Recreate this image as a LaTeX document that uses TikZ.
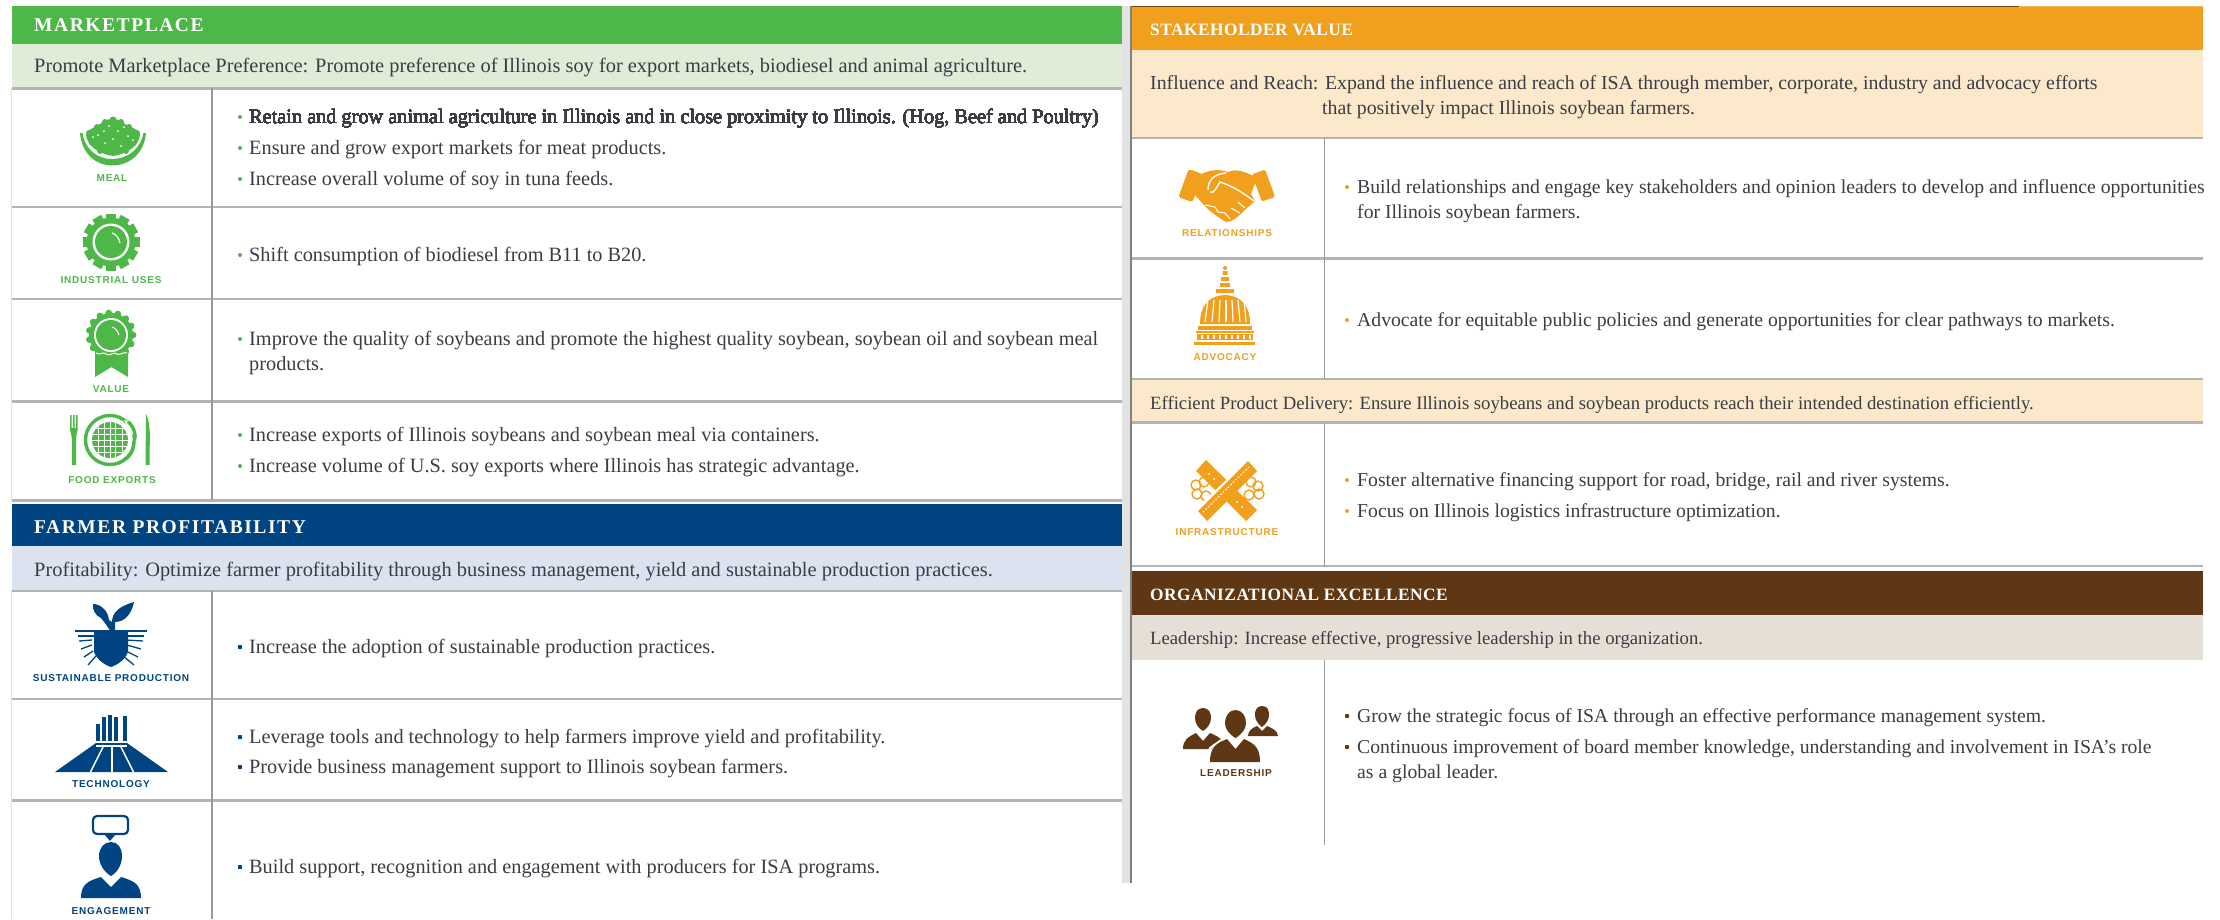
\documentclass[tikz,border=0pt]{standalone}
\usepackage{fontspec}
\setmainfont{Liberation Serif}
\newfontfamily\headfont[LetterSpace=8]{Liberation Serif}
\newfontfamily\headfontb[LetterSpace=3]{Liberation Serif}
\newfontfamily\lblfont[LetterSpace=8]{Liberation Sans}
\usetikzlibrary{calc}
\definecolor{cgreen}{HTML}{4DB848}
\definecolor{cgreenl}{HTML}{DFEDD8}
\definecolor{cblue}{HTML}{004481}
\definecolor{cbluel}{HTML}{DCE3F0}
\definecolor{corange}{HTML}{F0A01C}
\definecolor{corangel}{HTML}{FCE8CB}
\definecolor{cbrown}{HTML}{5F3714}
\definecolor{cbrownl}{HTML}{E6DFD6}
\definecolor{crule}{HTML}{B4B4B4}
\definecolor{ctext}{HTML}{3C3C44}
\tikzset{
  body/.style={anchor=base west,inner sep=0pt,text=ctext,font=\fontsize{20.3}{22}\selectfont},
  bodyr/.style={anchor=base west,inner sep=0pt,text=ctext,font=\fontsize{19.7}{22}\selectfont},
  bandtext/.style={body,font=\fontsize{20.4}{22}\selectfont},
  bandr/.style={body,font=\fontsize{19.8}{22}\selectfont},
  bandrs/.style={body,font=\fontsize{18.7}{22}\selectfont},
  headtxt/.style={anchor=base west,inner sep=0pt,text=white,font=\headfont\bfseries\fontsize{19.5}{24}\selectfont},
  headtxtb/.style={anchor=base west,inner sep=0pt,text=white,font=\headfontb\bfseries\fontsize{17.3}{24}\selectfont},
  lbl/.style={anchor=center,inner sep=0pt,font=\lblfont\bfseries\fontsize{10}{11}\selectfont},
  rowrule/.style={draw=crule,line width=2.2pt},
  colrule/.style={draw=crule!85!black,line width=1.8pt}
}
\newcommand{\blt}[3]{\fill[#3] (#1,#2) circle[radius=2pt];}
\begin{document}
\begin{tikzpicture}[x=1pt,y=-1pt]
\useasboundingbox (0,0) rectangle (2220,919);
\fill[white] (0,0) rectangle (2220,919);
%=== LEFT PANEL
\fill[cgreen] (11.5,6) rectangle (1121.5,44);
\fill[cgreenl] (11.5,44) rectangle (1121.5,88);
\fill[cblue] (11.5,504) rectangle (1121.5,545.5);
\fill[cbluel] (11.5,545.5) rectangle (1121.5,590);
\draw[draw=black!12,line width=0.8pt] (11.5,88) -- (11.5,500) (11.5,590) -- (11.5,919);
\foreach \yy in {88.5,207,299,401.5,500.5,591,699,800.5} \draw[rowrule] (11.5,\yy) -- (1121.5,\yy);
\draw[colrule] (212,88) -- (212,500) (212,591) -- (212,919);
\node[headtxt] (h1) at (34,31) {MARKETPLACE};
\node[bandtext] (b1) at (34,72) {Promote Marketplace Preference: Promote preference of Illinois soy for export markets, biodiesel and animal agriculture.};
\node[headtxt] (h2) at (34,533.5) {FARMER PROFITABILITY};
\node[bandtext] (b2) at (34,576) {Profitability: Optimize farmer profitability through business management, yield and sustainable production practices.};
\foreach \yy in {117,148,179,255,339,435,466} \blt{240}{\yy}{cgreen}
\foreach \yy in {647,737,767,867} \blt{240}{\yy}{cblue}
\node[body] (t1) at (249,123.8) {Retain and grow animal agriculture in Illinois and in close proximity to Illinois. (Hog, Beef and Poultry)};
\node[body] (t2) at (249,154) {Ensure and grow export markets for meat products.};
\node[body] (t3) at (249,185) {Increase overall volume of soy in tuna feeds.};
\node[body] (t4) at (249,261) {Shift consumption of biodiesel from B11 to B20.};
\node[body] (t5) at (249,345) {Improve the quality of soybeans and promote the highest quality soybean, soybean oil and soybean meal};
\node[body] (t6) at (249,370) {products.};
\node[body] (t7) at (249,441) {Increase exports of Illinois soybeans and soybean meal via containers.};
\node[body] (t8) at (249,472) {Increase volume of U.S. soy exports where Illinois has strategic advantage.};
\node[body] (t9) at (249,653) {Increase the adoption of sustainable production practices.};
\node[body] (t10) at (249,743) {Leverage tools and technology to help farmers improve yield and profitability.};
\node[body] (t11) at (249,773) {Provide business management support to Illinois soybean farmers.};
\node[body] (t12) at (249,873) {Build support, recognition and engagement with producers for ISA programs.};
%--- meal icon
\fill[cgreen] (80,133) .. controls (82,155) and (97,165.5) .. (112,165.5) .. controls (128,165.5) and (144,155) .. (146,133) -- (143.5,133) .. controls (140,150) and (127,159) .. (112,159) .. controls (98,159) and (85,150) .. (82.5,133) -- cycle;
\fill[cgreen] (86,135) .. controls (88,128) and (97,127) .. (100,124) .. controls (104,118) and (120,117) .. (125,124) .. controls (130,127) and (139,129) .. (140,135) .. controls (139,145) and (128,154) .. (113,156) .. controls (98,154) and (87,145) .. (86,135) -- cycle;
\foreach \cx/\cy/\rr in {113/120/3.5,105/122/3,121/122/3,97/127/3,129/127/3,89/133/3,137/133/3,92/143/3,134/143/3,100/151/3,126/151/3} \fill[cgreen] (\cx,\cy) circle[radius=\rr pt];
\foreach \cx/\cy in {109/126,118/131,98/135,128/136,105/143,121/146,113/139,93/137,133/140,104/131,124/127} \fill[white] (\cx,\cy) circle[radius=1pt];
\node[lbl,text=cgreen] (l1) at (112,178) {MEAL};
%--- gear icon
\foreach \a in {0,30,...,330} \fill[cgreen,rotate around={\a:(111,242)}] (106,213.5) rectangle (116,225);
\fill[cgreen] (111,242) circle[radius=24.5pt];
\fill[white] (111,242) circle[radius=18.5pt];
\fill[cgreen] (111,242) circle[radius=16pt];
\draw[white,line width=1.2pt] (112,233) .. controls (116,234) and (119,238) .. (120,243);
\node[lbl,text=cgreen] (l2) at (111,280) {INDUSTRIAL USES};
%--- value icon
\fill[cgreen] (95,350) -- (128,350) -- (128,377) -- (111.5,367) -- (95,377) -- cycle;
\foreach \a in {0,24,...,336} \fill[cgreen] ($(111,335)+(\a:22)$) circle[radius=3.4pt];
\fill[cgreen] (111,335) circle[radius=22pt];
\fill[white] (111,335) circle[radius=17pt];
\fill[cgreen] (111,335) circle[radius=15pt];
\draw[white,line width=1.1pt] (112,327) .. controls (115,328) and (118,331) .. (119,335);
\draw[white,line width=1pt] (96,353) .. controls (100,356) and (103,351) .. (106,354) .. controls (109,357) and (114,351) .. (117,354) .. controls (120,356) and (124,351) .. (127,353);
\node[lbl,text=cgreen] (l3) at (111,389) {VALUE};
%--- food exports icon
\draw[cgreen,line width=3.4pt] (110,440) circle[radius=24.5pt];
\fill[white] (124,420) -- (140,425) -- (140,458) -- (126,462) -- (136,440) -- cycle;
\draw[cgreen,line width=3.4pt] (128,421.5) .. controls (135,428) and (136,436) .. (134.5,440);
\draw[cgreen,line width=3.4pt] (134,441) .. controls (134,450) and (130,457) .. (124,460);
\begin{scope}
\clip (110,440) circle[radius=18pt];
\fill[cgreen] (110,440) circle[radius=18pt];
\foreach \xx in {98,104.5,110,115.5,122} \draw[white,line width=1pt] (\xx,420) -- (\xx,460);
\foreach \yy in {428,434,440,446,452} \draw[white,line width=1pt] (90,\yy) -- (130,\yy);
\end{scope}
\fill[cgreen] (70,415) rectangle (71.5,431) (73,415) rectangle (74.5,431) (76,415) rectangle (77.5,431);
\fill[cgreen] (70,428) -- (77.5,428) -- (76,439) -- (76,465) -- (72,465) -- (72,439) -- cycle;
\fill[cgreen] (146,414) .. controls (150,420) and (150.5,440) .. (149.5,448) -- (149.5,465) -- (145.5,465) -- cycle;
\node[lbl,text=cgreen] (l4) at (112,480) {FOOD EXPORTS};
%--- sustainable production icon
\fill[cblue] (111,632) .. controls (106,624) and (104,622) .. (101,618) .. controls (96,616) and (92,610) .. (93,604) .. controls (100,604) and (108,610) .. (109,620) -- (112,622) .. controls (112,612) and (120,606) .. (134,602) .. controls (132,612) and (126,622) .. (115,622) -- (115,632) -- cycle;
\draw[cblue,line width=1.3pt] (75,631) -- (147,631) (78,636) -- (144,636);
\fill[cblue] (94,632) -- (128,632) -- (128,652) .. controls (125,660) and (117,665) .. (111,667) .. controls (105,665) and (97,660) .. (94,652) -- cycle;
\foreach \xa/\ya/\xb/\yb in {92/640/79/641,92/645/81/649,93/651/84/657,96/656/88/665,126/640/143/641,127/645/141/649,126/651/138/657,123/656/134/665} \draw[cblue,line width=1.3pt] (\xa,\ya) -- (\xb,\yb);
\node[lbl,text=cblue] (l5) at (111,678) {SUSTAINABLE PRODUCTION};
%--- technology icon
\foreach \xa/\xb/\ya in {96/100/724,102/106/717,108/112/715,114/118/717,123/127/716} \fill[cblue] (\xa,\ya) rectangle (\xb,741);
\fill[cblue] (96,743) -- (127,743) -- (168,772) -- (55,772) -- cycle;
\foreach \xa/\xb in {104/90,112/112,120/134} \draw[white,line width=1.5pt] (\xa,745) -- (\xb,773);
\draw[white,line width=1.2pt] (96,746) -- (127,746);
\node[lbl,text=cblue] (l6) at (111,784) {TECHNOLOGY};
%--- engagement icon
\draw[cblue,line width=2.2pt,rounded corners=4pt] (93,816) rectangle (128,834);
\fill[cblue] (105,835) -- (115,835) -- (110,841) -- cycle;
\fill[cblue] (111,842) .. controls (118,842) and (122,848) .. (122,856) .. controls (122,864) and (118,872) .. (111,876) .. controls (104,872) and (99,864) .. (99,856) .. controls (99,848) and (104,842) .. (111,842) -- cycle;
\fill[cblue] (81,898) .. controls (81,885) and (87,881) .. (101,877) -- (111,887) -- (121,877) .. controls (135,881) and (141,885) .. (141,898) -- cycle;
\node[lbl,text=cblue] (l7) at (111,911) {ENGAGEMENT};
%=== RIGHT PANEL
\fill[black!11] (1121.5,6) rectangle (1129.5,883);
\fill[black!50] (1129.5,6) rectangle (1131.5,883);
\fill[corange] (1131.5,7) rectangle (2203,50);
\fill[corangel] (1131.5,50) rectangle (2203,137);
\draw[draw=cbrown!85!corange,line width=1pt] (1131.5,6.5) -- (2019,6.5);
\draw[draw=corange!75,line width=1pt] (2019,6.5) -- (2203,6.5);
\fill[corangel] (1131.5,380) rectangle (2203,422);
\fill[cbrown] (1131.5,571) rectangle (2203,615);
\fill[cbrownl] (1131.5,615) rectangle (2203,660);
\foreach \yy in {138,258.5,379,422.5,566} \draw[rowrule] (1131.5,\yy) -- (2203,\yy);
\draw[colrule,line width=1.5pt] (1324.5,138) -- (1324.5,379) (1324.5,423) -- (1324.5,566) (1324.5,660) -- (1324.5,845);
\begin{scope}
\clip (1131.5,0) rectangle (2203,919);
\node[headtxtb] (h3) at (1150,35.5) {STAKEHOLDER VALUE};
\node[bandr] (b3) at (1150,89) {Influence and Reach: Expand the influence and reach of ISA through member, corporate, industry and advocacy efforts};
\node[bandr] (b3b) at (1322,114) {that positively impact Illinois soybean farmers.};
\node[bodyr] (t13) at (1357,193) {Build relationships and engage key stakeholders and opinion leaders to develop and influence opportunities};
\node[bodyr] (t14) at (1357,218) {for Illinois soybean farmers.};
\node[bodyr] (t15) at (1357,326) {Advocate for equitable public policies and generate opportunities for clear pathways to markets.};
\node[bandrs] (b4) at (1150,409) {Efficient Product Delivery: Ensure Illinois soybeans and soybean products reach their intended destination efficiently.};
\node[bodyr] (t16) at (1357,486) {Foster alternative financing support for road, bridge, rail and river systems.};
\node[bodyr] (t17) at (1357,517) {Focus on Illinois logistics infrastructure optimization.};
\node[headtxtb] (h4) at (1150,600) {ORGANIZATIONAL EXCELLENCE};
\node[bandrs] (b5) at (1150,644) {Leadership: Increase effective, progressive leadership in the organization.};
\node[bodyr] (t18) at (1357,722) {Grow the strategic focus of ISA through an effective performance management system.};
\node[bodyr] (t19) at (1357,753) {Continuous improvement of board member knowledge, understanding and involvement in ISA's role};
\node[bodyr] (t20) at (1357,778) {as a global leader.};
\end{scope}
\foreach \yy in {187,320,480,511} \blt{1347}{\yy}{corange}
\foreach \yy in {716,747} \blt{1347}{\yy}{cbrown}
%--- relationships icon
\fill[corange,rounded corners=1.5pt,rotate around={-20:(1190,187)}] (1183,171) rectangle (1197,200);
\fill[corange,rounded corners=1.5pt,rotate around={20:(1264,187)}] (1257,171) rectangle (1271,200);
\fill[corange] (1198,176) .. controls (1206,171) and (1216,168) .. (1228,172) .. controls (1236,168) and (1246,172) .. (1257,178) -- (1251,194) -- (1255,201) .. controls (1250,206) and (1246,208) .. (1242,213) .. controls (1236,218) and (1232,222) .. (1226,222) .. controls (1216,216) and (1208,210) .. (1203,204) -- (1194,194) -- cycle;
\draw[white,line width=1.4pt] (1208,190) .. controls (1208,180) and (1214,174) .. (1226,173) (1210,192) .. controls (1214,194) and (1216,188) .. (1220,182) .. controls (1232,186) and (1242,192) .. (1254,201);
\draw[white,line width=1pt] (1205,205) -- (1215,207) -- (1218,212) -- (1225,213) -- (1230,219) (1231,208) -- (1240,213) (1238,202) -- (1245,208);
\node[lbl,text=corange] (l8) at (1227,233) {RELATIONSHIPS};
%--- advocacy icon
\fill[corange] (1225,268) circle[radius=2pt];
\fill[corange] (1222.5,271) rectangle (1227.5,275) (1221,277) rectangle (1229,281) (1220,283) rectangle (1230,287) (1216,289) rectangle (1234,293);
\fill[corange] (1200,324) .. controls (1200,306) and (1208,296) .. (1225,295) .. controls (1242,296) and (1250,306) .. (1250,324) -- cycle;
\foreach \xa/\xb in {1208/1205,1214/1212,1220/1219,1226/1226,1232/1233,1238/1240,1244/1246} \draw[white,line width=1.2pt] (\xa,300) -- (\xb,322);
\fill[corange] (1198,326) rectangle (1252,330);
\fill[corange] (1196,331) rectangle (1254,333);
\fill[corange] (1197,334) rectangle (1253,340);
\foreach \xx in {1201,1207,...,1250} \fill[white] (\xx,335) rectangle (\xx+2,339);
\fill[corange] (1194,341.5) rectangle (1255,345);
\node[lbl,text=corange] (l9) at (1225,357) {ADVOCACY};
%--- infrastructure icon
\foreach \cx/\cy in {1196/485,1204/482,1197/494,1206/496,1251/482,1258/486,1249/495,1259/494} \draw[corange,line width=1.4pt] (\cx,\cy) circle[radius=5pt];
\fill[corange] (1196,471) -- (1206,460) -- (1257,510) -- (1246,521) -- cycle;
\foreach \xx/\yy in {1209/474,1214/479,1237/502,1242/507} \fill[white] (\xx,\yy) circle[radius=1pt];
\draw[white,line width=3pt] (1197,509) -- (1248,462);
\fill[corange] (1198,511) -- (1248,461) -- (1257,471) -- (1207,521) -- cycle;
\draw[white,line width=1pt,dash pattern=on 1.5pt off 2pt] (1203,512) -- (1250,466);
\node[lbl,text=corange] (l10) at (1227,532) {INFRASTRUCTURE};
%--- leadership icon
\fill[cbrown] (1262,706) .. controls (1268,706) and (1269,711) .. (1269,715) .. controls (1269,720) and (1266,724) .. (1262,727) .. controls (1258,724) and (1255,720) .. (1255,715) .. controls (1255,711) and (1256,706) .. (1262,706) -- cycle;
\fill[cbrown] (1248,736) .. controls (1248,731) and (1252,728) .. (1257,726) -- (1262,731) -- (1267,726) .. controls (1272,728) and (1278,731) .. (1278,736) -- cycle;
\fill[cbrown] (1203,708) .. controls (1209,708) and (1211,713) .. (1211,718) .. controls (1211,723) and (1208,728) .. (1203,731) .. controls (1198,728) and (1195,723) .. (1195,718) .. controls (1195,713) and (1197,708) .. (1203,708) -- cycle;
\fill[cbrown] (1183,749) .. controls (1183,740) and (1188,737) .. (1196,733) -- (1203,741) -- (1210,733) .. controls (1215,735) and (1221,738) .. (1222,741) -- (1210,749) -- cycle;
\draw[white,line width=2pt] (1206,762) -- (1210,748) -- (1224,738);
\fill[cbrown] (1235.5,710) .. controls (1242,710) and (1246,716) .. (1246,723) .. controls (1246,729) and (1242,734) .. (1235.5,738) .. controls (1229,734) and (1225,729) .. (1225,723) .. controls (1225,716) and (1229,710) .. (1235.5,710) -- cycle;
\fill[cbrown] (1210,762) .. controls (1210,748) and (1215,744) .. (1227,739) -- (1235.5,749) -- (1244,739) .. controls (1255,744) and (1260,748) .. (1260,762) -- cycle;
\node[lbl,text=cbrown] (l11) at (1236,773) {LEADERSHIP};
\end{tikzpicture}
\end{document}
